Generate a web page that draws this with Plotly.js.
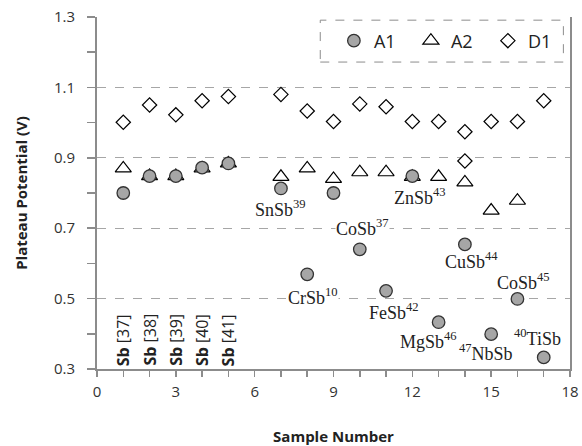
<!DOCTYPE html>
<html>
<head>
<meta charset="utf-8">
<script src="https://cdn.plot.ly/plotly-3.0.1.min.js"></script>
<style>html,body{margin:0;padding:0;background:#fff;}#chart{width:582px;height:446px;}</style>
</head>
<body>
<div id="chart"></div>
<script>
// Data
const a1X = [1, 2, 3, 4, 5, 7, 8, 9, 10, 11, 12, 13, 14, 15, 16, 17];
const a1Y = [0.80, 0.848, 0.848, 0.872, 0.884, 0.813, 0.569, 0.80, 0.64, 0.522, 0.848, 0.433, 0.654, 0.399, 0.499, 0.333];

const a2X = [1, 2, 3, 4, 5, 7, 8, 9, 10, 11, 12, 13, 14, 15, 16];
const a2Y = [0.870, 0.848, 0.848, 0.870, 0.884, 0.846, 0.870, 0.840, 0.859, 0.859, 0.846, 0.846, 0.830, 0.750, 0.778];

const d1X = [1, 2, 3, 4, 5, 7, 8, 9, 10, 11, 12, 13, 14, 14, 15, 16, 17];
const d1Y = [1.001, 1.050, 1.022, 1.062, 1.074, 1.080, 1.033, 1.003, 1.053, 1.045, 1.003, 1.003, 0.974, 0.891, 1.003, 1.003, 1.062];

// Compound labels (text, x, y, white background)
const labelText = ['SnSb<sup>39</sup>', 'CoSb<sup>37</sup>', 'CrSb<sup>10</sup>', 'ZnSb<sup>43</sup>', 'FeSb<sup>42</sup>',
  'CuSb<sup>44</sup>', 'CoSb<sup>45</sup>', 'MgSb<sup>46</sup>', '<sup>47</sup>NbSb', '<sup>40</sup>TiSb'];
const labelX = [6.98, 10.11, 8.23, 12.28, 11.29, 14.24, 16.24, 12.63, 14.81, 16.75];
const labelY = [0.756, 0.702, 0.507, 0.791, 0.463, 0.607, 0.549, 0.382, 0.347, 0.39];
const labelBg = [false, true, true, false, false, false, false, false, false, false];

// Reference labels for pure Sb samples
const sbRefX = [1, 2, 3, 4, 5];
const sbRefText = ['[37]', '[38]', '[39]', '[40]', '[41]'];

const traces = [
  {x: a2X, y: a2Y, name: 'A2', type: 'scatter', mode: 'markers', legendrank: 2,
   marker: {symbol: 'triangle-up-open', size: 14, color: '#000', line: {width: 1.2, color: '#000'}}},
  {x: d1X, y: d1Y, name: 'D1', type: 'scatter', mode: 'markers', legendrank: 3,
   marker: {symbol: 'diamond', size: 11, color: '#fff', line: {width: 1.2, color: '#000'}}},
  {x: a1X, y: a1Y, name: 'A1', type: 'scatter', mode: 'markers', legendrank: 1,
   marker: {symbol: 'circle', size: 12.5, color: '#a6a6a6', line: {width: 1.3, color: '#333'}}}
];

const annotations = [];
for (let i = 0; i < labelText.length; i++) {
  annotations.push({x: labelX[i], y: labelY[i], xref: 'x', yref: 'y', text: labelText[i], showarrow: false,
    xanchor: 'center', yanchor: 'middle', bgcolor: labelBg[i] ? '#fff' : 'rgba(0,0,0,0)', borderpad: 0,
    font: {family: 'Liberation Serif, Times New Roman, serif', size: 18, color: '#222'}});
}
for (let i = 0; i < sbRefX.length; i++) {
  annotations.push({x: sbRefX[i], y: 0.3, xref: 'x', yref: 'y', text: '<b>Sb</b> ' + sbRefText[i], showarrow: false,
    textangle: -90, xanchor: 'center', yanchor: 'bottom', yshift: 1,
    font: {family: 'Open Sans, sans-serif', size: 16, color: '#222'}});
}

const layout = {
  width: 582, height: 446,
  margin: {l: 97, r: 12, t: 17, b: 77},
  paper_bgcolor: '#fff', plot_bgcolor: '#fff',
  font: {family: 'Open Sans, sans-serif', color: '#333'},
  showlegend: true,
  legend: {orientation: 'h', x: 0.745, y: 0.932, xanchor: 'center', yanchor: 'middle',
    bgcolor: 'rgba(0,0,0,0)', font: {family: 'Open Sans, sans-serif', size: 18, color: '#222'},
    itemwidth: 30, traceorder: 'normal', entrywidth: 32},
  xaxis: {range: [0, 18], tick0: 0, dtick: 3, showgrid: false, zeroline: false,
    showline: true, linecolor: '#8c8c8c', linewidth: 2,
    ticks: 'outside', ticklen: 6, tickcolor: '#8c8c8c', tickwidth: 1.5,
    minor: {dtick: 1, ticks: 'outside', ticklen: 6, tickcolor: '#8c8c8c', tickwidth: 1.5, showgrid: false},
    tickfont: {family: 'Open Sans, sans-serif', size: 15, color: '#333'}, ticklabelstandoff: 2,
    title: {text: '<b>Sample Number</b>', font: {family: 'Open Sans, sans-serif', size: 15, color: '#222'}, standoff: 34}},
  yaxis: {range: [0.3, 1.3], tick0: 0.3, dtick: 0.2, showgrid: true, gridcolor: '#a6a6a6', griddash: 'dash', gridwidth: 1,
    zeroline: false, showline: true, linecolor: '#8c8c8c', linewidth: 2, mirror: true,
    ticks: 'outside', ticklen: 8, tickcolor: '#8c8c8c', tickwidth: 1.5,
    minor: {dtick: 0.1, ticks: 'outside', ticklen: 8, tickcolor: '#8c8c8c', tickwidth: 1.5, showgrid: false},
    tickformat: '.1f',
    tickfont: {family: 'Open Sans, sans-serif', size: 15, color: '#333'}, ticklabelstandoff: 9,
    title: {text: '<b>Plateau Potential (V)</b>', font: {family: 'Open Sans, sans-serif', size: 15, color: '#222'}, standoff: 23}},
  shapes: [
    {type: 'rect', xref: 'paper', yref: 'paper', x0: 0.472, x1: 0.986, y0: 0.872, y1: 0.991,
     line: {color: '#8c8c8c', width: 1, dash: 'dash'}, fillcolor: 'rgba(0,0,0,0)'}
  ],
  annotations: annotations
};

Plotly.newPlot('chart', traces, layout, {displayModeBar: false, staticPlot: true});
</script>
</body>
</html>
